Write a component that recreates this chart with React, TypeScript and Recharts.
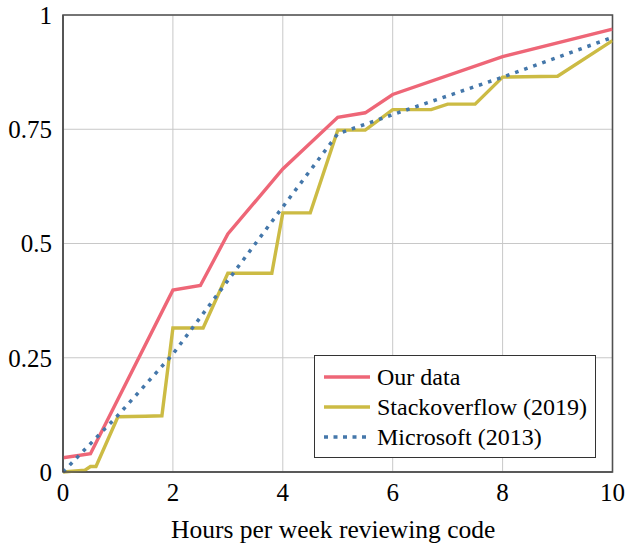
import React from "react";
import {
  LineChart,
  Line,
  XAxis,
  YAxis,
  CartesianGrid,
  Legend,
  ReferenceArea,
} from "recharts";

const ourX = [0, 0.5, 2, 2.5, 3, 4, 5, 5.5, 6, 8, 10];
const ourY = [0.031, 0.04, 0.398, 0.408, 0.521, 0.663, 0.776, 0.786, 0.826, 0.909, 0.969];

const soX = [0, 0.4, 0.5, 0.6, 1, 1.5, 1.8, 2, 2.55, 3, 3.8, 4, 4.5, 5, 5.5, 6, 6.7, 7, 7.5, 8, 9, 10];
const soY = [0, 0.004, 0.012, 0.012, 0.121, 0.122, 0.123, 0.315, 0.315, 0.435, 0.435, 0.567, 0.567, 0.748, 0.748, 0.793, 0.793, 0.805, 0.805, 0.864, 0.866, 0.944];

const msX = [0, 1, 2, 4, 5, 6, 8, 10];
const msY = [0, 0.124, 0.258, 0.58, 0.74, 0.782, 0.864, 0.951];

const xTicks = [0, 2, 4, 6, 8, 10];
const yTicks = [0, 0.25, 0.5, 0.75, 1];

const seriesNames = ["Our data", "Stackoverflow (2019)", "Microsoft (2013)"];
const xLabel = "Hours per week reviewing code";

const ourData = ourX.map((x, i) => ({ x, y: ourY[i] }));
const soData = soX.map((x, i) => ({ x, y: soY[i] }));
const msData = msX.map((x, i) => ({ x, y: msY[i] }));

const FONT = '"Liberation Serif", "Times New Roman", serif';
const RED = "#EE6677";
const YELLOW = "#CCBB44";
const BLUE = "#4477AA";
const FRAME = "#505050";

const legendItems = [
  { name: seriesNames[0], color: RED, dash: undefined as string | undefined },
  { name: seriesNames[1], color: YELLOW, dash: undefined as string | undefined },
  { name: seriesNames[2], color: BLUE, dash: "4 5.5" },
];

const renderLegend = () => (
  <div
    style={{
      boxSizing: "border-box",
      width: 282,
      height: 103,
      border: "1.3px solid #333",
      background: "#fff",
      paddingTop: 6,
      paddingLeft: 9,
      fontFamily: FONT,
      fontSize: 24,
      color: "#000",
    }}
  >
    {legendItems.map((it) => (
      <div
        key={it.name}
        style={{ display: "flex", alignItems: "center", height: 30, lineHeight: "30px" }}
      >
        <svg width={46} height={10} style={{ marginRight: 7, flex: "none" }}>
          <line
            x1={0}
            y1={5}
            x2={46}
            y2={5}
            stroke={it.color}
            strokeWidth={3.4}
            strokeDasharray={it.dash}
          />
        </svg>
        <span style={{ whiteSpace: "nowrap" }}>{it.name}</span>
      </div>
    ))}
  </div>
);

const renderXLabel = (props: any) => {
  const vb = props.viewBox || {};
  const cx = (vb.x ?? 0) + (vb.width ?? 0) / 2 - 4.5;
  return (
    <text
      x={cx}
      y={538}
      textAnchor="middle"
      fontFamily={FONT}
      fontSize={25.5}
      fill="#000"
    >
      {xLabel}
    </text>
  );
};

export default function App() {
  const tickStyle = { fontFamily: FONT, fontSize: 25, fill: "#000" };
  return (
    <div style={{ position: "absolute", left: 0, top: 0 }}>
      <LineChart
        width={627}
        height={547}
        margin={{ top: 15, right: 14.5, left: 0, bottom: 0 }}
      >
        <CartesianGrid stroke="#c8c8c8" strokeWidth={1} />
        <XAxis
          type="number"
          dataKey="x"
          domain={[0, 10]}
          ticks={xTicks}
          allowDataOverflow
          height={75}
          tickLine={false}
          tickSize={0}
          tickMargin={11}
          axisLine={{ stroke: FRAME, strokeWidth: 1.6 }}
          tick={tickStyle}
          interval={0}
          label={{ content: renderXLabel }}
        />
        <YAxis
          type="number"
          domain={[0, 1]}
          ticks={yTicks}
          width={63}
          tickLine={false}
          tickSize={0}
          tickMargin={11}
          axisLine={{ stroke: FRAME, strokeWidth: 1.6 }}
          tick={tickStyle}
          interval={0}
        />
        <ReferenceArea
          x1={0}
          x2={10}
          y1={0}
          y2={1}
          fill="none"
          stroke={FRAME}
          strokeWidth={1.6}
          fillOpacity={0}
        />
        <Line
          data={ourData}
          dataKey="y"
          name={seriesNames[0]}
          type="linear"
          stroke={RED}
          strokeWidth={3.4}
          dot={false}
          activeDot={false}
          isAnimationActive={false}
        />
        <Line
          data={soData}
          dataKey="y"
          name={seriesNames[1]}
          type="linear"
          stroke={YELLOW}
          strokeWidth={3.4}
          dot={false}
          activeDot={false}
          isAnimationActive={false}
        />
        <Line
          data={msData}
          dataKey="y"
          name={seriesNames[2]}
          type="linear"
          stroke={BLUE}
          strokeWidth={3.5}
          strokeDasharray="3.6 6"
          dot={false}
          activeDot={false}
          isAnimationActive={false}
        />
        <Legend
          layout="vertical"
          align="center"
          verticalAlign="middle"
          content={renderLegend}
          wrapperStyle={{ left: 314, top: 355, width: 282, height: 103 }}
        />
      </LineChart>
    </div>
  );
}
